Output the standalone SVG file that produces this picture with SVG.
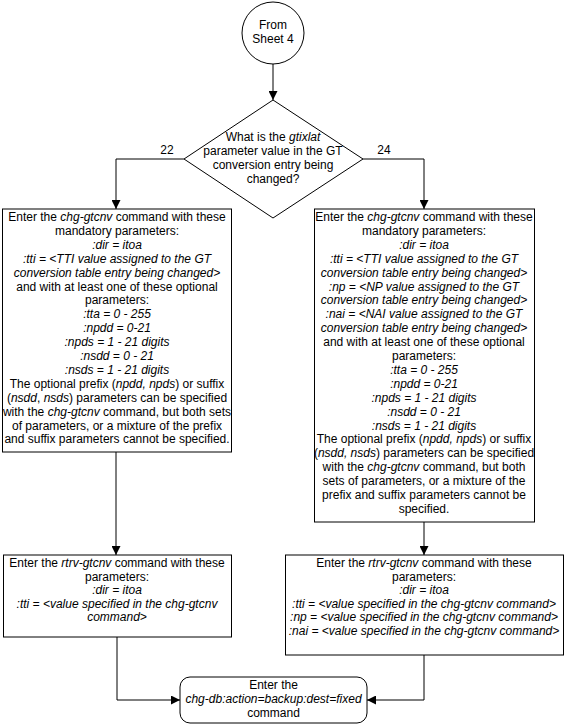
<svg xmlns="http://www.w3.org/2000/svg" width="565" height="725" viewBox="0 0 565 725">
<style>
text{font-family:"Liberation Sans",Arial,sans-serif;font-size:12px;fill:#000;text-anchor:middle}
.i{font-style:italic}
.box{fill:#fff;stroke:#000;stroke-width:1}
.ln{fill:none;stroke:#000;stroke-width:1}
</style>
<defs>
<marker id="ah" viewBox="0 0 10 10" refX="10" refY="5" markerWidth="9" markerHeight="9" orient="auto" markerUnits="userSpaceOnUse"><path d="M0,0 L10,5 L0,10 z" fill="#000"/></marker>
</defs>
<g id="connectors">
<path class="ln" d="M273,64 V100" marker-end="url(#ah)"/>
<path class="ln" d="M184,159 H116 V209" marker-end="url(#ah)"/>
<path class="ln" d="M363,159 H424 V209" marker-end="url(#ah)"/>
<path class="ln" d="M116,452 V555" marker-end="url(#ah)"/>
<path class="ln" d="M424,522 V555" marker-end="url(#ah)"/>
<path class="ln" d="M117,637 V700 H180" marker-end="url(#ah)"/>
<path class="ln" d="M424,655 V700 H367" marker-end="url(#ah)"/>
<text x="167" y="154">22</text>
<text x="384" y="154">24</text>
</g>
<g id="start">
<circle class="box" cx="273" cy="33" r="31"/>
<text x="273" y="29">From</text>
<text x="273" y="43">Sheet  4</text>
</g>
<g id="decision">
<path class="box" d="M273,100 L363,159 L273,218 L184,159 Z"/>
<text x="273" y="141">What is the <tspan class="i">gtixlat</tspan></text>
<text x="273" y="155">parameter value in the GT</text>
<text x="273" y="169">conversion entry being</text>
<text x="273" y="183">changed?</text>
</g>
<g id="chg22">
<rect class="box" x="2.5" y="209" width="229" height="243"/>
<text x="117" y="221">Enter the <tspan class="i">chg-gtcnv</tspan> command with these</text>
<text x="117" y="234.9">mandatory parameters:</text>
<text x="117" y="248.8" class="i">:dir = itoa</text>
<text x="117" y="262.7" class="i">:tti = &lt;TTI value assigned to the GT</text>
<text x="117" y="276.6" class="i">conversion table entry being changed&gt;</text>
<text x="117" y="290.5">and with at least one of these optional</text>
<text x="117" y="304.4">parameters:</text>
<text x="117" y="318.3" class="i">:tta = 0 - 255</text>
<text x="117" y="332.2" class="i">:npdd = 0-21</text>
<text x="117" y="346.1" class="i">:npds = 1 - 21 digits</text>
<text x="117" y="360" class="i">:nsdd = 0 - 21</text>
<text x="117" y="373.9" class="i">:nsds = 1 - 21 digits</text>
<text x="117" y="387.8">The optional prefix (<tspan class="i">npdd, npds</tspan>) or suffix</text>
<text x="117" y="401.7">(<tspan class="i">nsdd</tspan>, <tspan class="i">nsds</tspan>) parameters can be specified</text>
<text x="117" y="415.6">with the <tspan class="i">chg-gtcnv</tspan> command, but both sets</text>
<text x="117" y="429.5">of parameters, or a mixture of the prefix</text>
<text x="117" y="443.4">and suffix parameters cannot be specified.</text>
</g>
<g id="chg24">
<rect class="box" x="314.5" y="209" width="220" height="313"/>
<text x="424" y="221">Enter the <tspan class="i">chg-gtcnv</tspan> command with these</text>
<text x="424" y="234.9">mandatory parameters:</text>
<text x="424" y="248.8" class="i">:dir = itoa</text>
<text x="424" y="262.7" class="i">:tti = &lt;TTI value assigned to the GT</text>
<text x="424" y="276.6" class="i">conversion table entry being changed&gt;</text>
<text x="424" y="290.5" class="i">:np = &lt;NP value assigned to the GT</text>
<text x="424" y="304.4" class="i">conversion table entry being changed&gt;</text>
<text x="424" y="318.3" class="i">:nai = &lt;NAI value assigned to the GT</text>
<text x="424" y="332.2" class="i">conversion table entry being changed&gt;</text>
<text x="424" y="346.1">and with at least one of these optional</text>
<text x="424" y="360">parameters:</text>
<text x="424" y="373.9" class="i">:tta = 0 - 255</text>
<text x="424" y="387.8" class="i">:npdd = 0-21</text>
<text x="424" y="401.7" class="i">:npds = 1 - 21 digits</text>
<text x="424" y="415.6" class="i">:nsdd = 0 - 21</text>
<text x="424" y="429.5" class="i">:nsds = 1 - 21 digits</text>
<text x="424" y="443.4">The optional prefix (<tspan class="i">npdd, npds</tspan>) or suffix</text>
<text x="424" y="457.3">(<tspan class="i">nsdd, nsds</tspan>) parameters can be specified</text>
<text x="424" y="471.2">with the <tspan class="i">chg-gtcnv</tspan> command, but both</text>
<text x="424" y="485.1">sets of parameters, or a mixture of the</text>
<text x="424" y="499">prefix and suffix parameters cannot be</text>
<text x="424" y="512.9">specified.</text>
</g>
<g id="rtrv22">
<rect class="box" x="3.5" y="555" width="228" height="82"/>
<text x="117" y="567">Enter the <tspan class="i">rtrv-gtcnv</tspan> command with these</text>
<text x="117" y="580.5">parameters:</text>
<text x="117" y="594" class="i">:dir = itoa</text>
<text x="117" y="607.5" class="i">:tti = &lt;value specified in the chg-gtcnv</text>
<text x="117" y="621" class="i">command&gt;</text>
</g>
<g id="rtrv24">
<rect class="box" x="285.5" y="555" width="278" height="100"/>
<text x="424" y="567">Enter the <tspan class="i">rtrv-gtcnv</tspan> command with these</text>
<text x="424" y="580.5">parameters:</text>
<text x="424" y="594" class="i">:dir = itoa</text>
<text x="424" y="607.5" class="i">:tti = &lt;value specified in the chg-gtcnv command&gt;</text>
<text x="424" y="621" class="i">:np = &lt;value specified in the chg-gtcnv command&gt;</text>
<text x="424" y="634.5" class="i">:nai = &lt;value specified in the chg-gtcnv command&gt;</text>
</g>
<g id="backup">
<rect class="box" x="180" y="677" width="187" height="46" rx="10"/>
<text x="273.5" y="689">Enter the</text>
<text x="273.5" y="703" class="i">chg-db:action=backup:dest=fixed</text>
<text x="273.5" y="717">command</text>
</g>
</svg>
